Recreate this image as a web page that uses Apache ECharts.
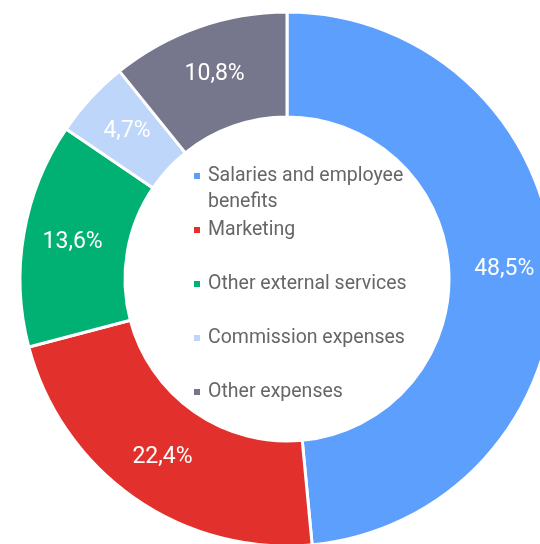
<!DOCTYPE html>
<html>
<head>
<meta charset="utf-8">
<script src="https://cdn.jsdelivr.net/npm/echarts@6/dist/echarts.min.js"></script>
<style>
  html, body { margin: 0; padding: 0; background: #fff; }
  #main { width: 540px; height: 544px; }
</style>
</head>
<body>
<div id="main"></div>
<script>
// cost breakdown, share in %
var categories = ['Salaries and employee benefits', 'Marketing', 'Other external services', 'Commission expenses', 'Other expenses'];
var values = [48.5, 22.4, 13.6, 4.7, 10.8];
var colors = ['#5c9ffd', '#e2312c', '#00b173', '#bdd6fa', '#76778c'];

// legend rows (center y of first text line) inside the hole
var legendRows = [176, 230, 284, 338, 392];

var chart = echarts.init(document.getElementById('main'), null, { renderer: 'canvas' });

var legends = categories.map(function (name, i) {
  var twoLine = i === 0;
  return {
    data: [name],
    orient: 'vertical',
    left: 192,
    top: twoLine ? legendRows[i] - 39 : legendRows[i] - 13,
    padding: 0,
    icon: 'rect',
    itemWidth: 8,
    itemHeight: 8,
    selectedMode: false,
    formatter: function (n) {
      // blank first line keeps the icon level with the first text line
      return n === 'Salaries and employee benefits' ? ' \nSalaries and employee\nbenefits' : n;
    },
    textStyle: {
      fontFamily: 'Roboto',
      fontSize: 19.5,
      color: '#666666',
      lineHeight: 26,
      padding: [0, 0, 0, 2]
    }
  };
});

var option = {
  animation: false,
  color: colors,
  legend: legends,
  series: [
    {
      type: 'pie',
      center: [287, 279],
      radius: [162, 267],
      startAngle: 90,
      clockwise: true,
      avoidLabelOverlap: false,
      silent: true,
      itemStyle: {
        borderColor: '#ffffff',
        borderWidth: 3
      },
      label: {
        show: true,
        position: 'inside',
        color: '#ffffff',
        fontFamily: 'Roboto',
        fontSize: 23,
        formatter: function (p) {
          return p.value.toFixed(1).replace('.', ',') + '%';
        }
      },
      labelLine: { show: false },
      data: categories.map(function (c, i) {
        return { name: c, value: values[i] };
      })
    }
  ]
};

chart.setOption(option);
</script>
</body>
</html>
